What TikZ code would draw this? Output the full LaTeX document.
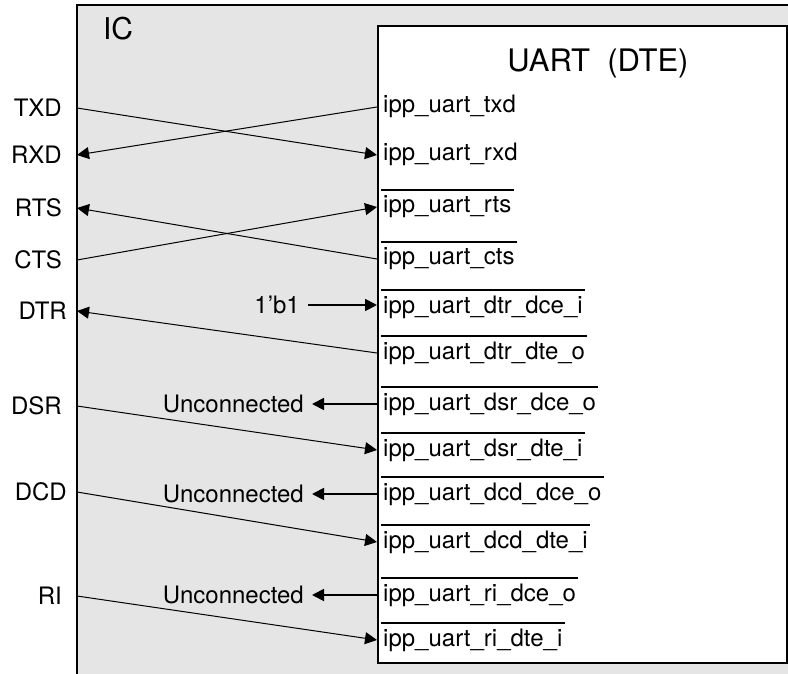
\documentclass[tikz,border=0pt]{standalone}
\usepackage{fontspec}
\setmainfont{TeX Gyre Heros}
\usetikzlibrary{arrows.meta}
\begin{document}
\begin{tikzpicture}[x=1pt,y=-1pt,
  txt/.style={font=\fontsize{24}{28}\selectfont},
  sig/.style={txt, anchor=east, inner xsep=15pt, inner ysep=0pt},
  pin/.style={txt, anchor=base west, inner xsep=6pt, inner ysep=0pt, text height=18pt, text depth=6pt},
  note/.style={txt, anchor=east, inner xsep=8pt, inner ysep=0pt},
  wire/.style={line width=1pt, -{Triangle[length=12pt,width=12pt]}},
  hwire/.style={line width=1.8pt, -{Triangle[length=12pt,width=12pt]}},
  ovl/.style={line width=1.6pt}
]
\useasboundingbox (0,0) rectangle (788,674);
% IC box
\fill[black!10] (77,5) rectangle (788,674);
\draw[line width=2pt] (77,674) -- (77,5) -- (788,5);
\node[font=\fontsize{30}{34}\selectfont, inner sep=0pt] (ic) at (118,29) {IC};
% UART box
\node[draw, line width=2pt, fill=white, anchor=north west, inner sep=0pt,
      minimum width=409pt, minimum height=637pt] (uart) at (377,25) {};
\node[font=\fontsize{31}{35}\selectfont, inner sep=0pt] (title) at (598,63) {UART\ \ (DTE)};
% left signals
\node[sig] (TXD) at (77,108) {TXD};
\node[sig] (RXD) at (77,155) {RXD};
\node[sig] (RTS) at (77,208) {RTS};
\node[sig] (CTS) at (77,260) {CTS};
\node[sig, inner xsep=10pt] (DTR) at (77,311) {DTR};
\node[sig] (DSR) at (77,406) {DSR};
\node[sig, inner xsep=10pt] (DCD) at (77,492) {DCD};
\node[sig] (RI) at (77,596) {RI};
% pins
\node[pin] (txd) at (377,113) {ipp\_uart\_txd};
\node[pin] (rxd) at (377,161) {ipp\_uart\_rxd};
\node[pin] (rts) at (377,213) {ipp\_uart\_rts};
\node[pin] (cts) at (377,265) {ipp\_uart\_cts};
\node[pin] (dtrdce) at (377,313) {ipp\_uart\_dtr\_dce\_i};
\node[pin] (dtrdte) at (377,359) {ipp\_uart\_dtr\_dte\_o};
\node[pin] (dsrdce) at (377,410) {ipp\_uart\_dsr\_dce\_o};
\node[pin] (dsrdte) at (377,456) {ipp\_uart\_dsr\_dte\_i};
\node[pin] (dcddce) at (377,500) {ipp\_uart\_dcd\_dce\_o};
\node[pin] (dcddte) at (377,548) {ipp\_uart\_dcd\_dte\_i};
\node[pin] (ridce) at (377,601) {ipp\_uart\_ri\_dce\_o};
\node[pin] (ridte) at (377,646) {ipp\_uart\_ri\_dte\_i};
% overlines (active-low pins)
\foreach \p in {rts,cts,dtrdce,dtrdte,dsrdce,dsrdte,dcddce,dcddte,ridce,ridte}
  \draw[ovl] ([xshift=4pt,yshift=5pt]\p.north west) -- ([xshift=-4pt,yshift=5pt]\p.north east);
% constants / unconnected
\node[note] (one) at ([xshift=-69pt,yshift=2pt]dtrdce.west) {1’b1};
\node[note] (u1) at ([xshift=-65pt]dsrdce.west) {Unconnected};
\node[note] (u2) at ([xshift=-65pt]dcddce.west) {Unconnected};
\node[note] (u3) at ([xshift=-65pt]ridce.west) {Unconnected};
% connectors
\draw[wire] (TXD.east) -- (rxd.west);
\draw[wire] (txd.west) -- (RXD.east);
\draw[wire] (cts.west) -- (RTS.east);
\draw[wire] (CTS.east) -- (rts.west);
\draw[wire] (dtrdte.west) -- (DTR.east);
\draw[wire] (DSR.east) -- (dsrdte.west);
\draw[wire] (DCD.east) -- (dcddte.west);
\draw[wire] (RI.east) -- (ridte.west);
\draw[hwire] (one.east) -- (one.east -| dtrdce.west);
\draw[hwire] (dsrdce.west) -- (u1.east);
\draw[hwire] (dcddce.west) -- (u2.east);
\draw[hwire] (ridce.west) -- (u3.east);
\end{tikzpicture}
\end{document}
